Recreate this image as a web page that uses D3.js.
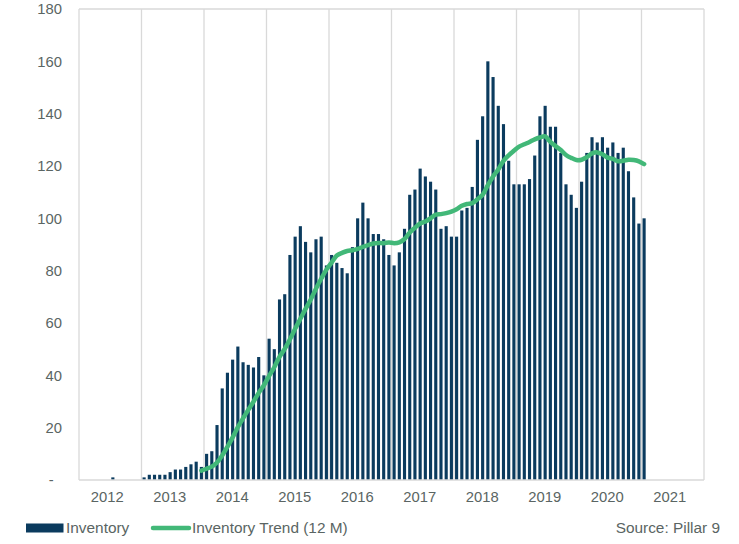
<!DOCTYPE html>
<html>
<head>
<meta charset="utf-8">
<script src="https://cdn.jsdelivr.net/npm/d3@7"></script>
<style>
  html, body { margin: 0; padding: 0; background: #ffffff; }
  svg { display: block; font-family: "Liberation Sans", Arial, sans-serif; }
</style>
</head>
<body>
<svg id="chart" width="739" height="544"></svg>
<script>
// ---------- DATA ----------
const years = [2012, 2013, 2014, 2015, 2016, 2017, 2018, 2019, 2020, 2021];
const yTicks = [0, 20, 40, 60, 80, 100, 120, 140, 160, 180];

// Monthly inventory, starting Jan of the first year span (null = no bar)
const inventory = [
  null, null, null, null, null, null, 1, null, null, null, null, null,
  1, 2, 2, 2, 2, 3, 4, 4, 5, 6, 7, 5,
  10, 11, 21, 35, 41, 46, 51, 45, 44, 43, 47, 40,
  54, 50, 69, 71, 86, 93, 97, 91, 87, 92, 93, 82,
  86, 83, 81, 79, 89, 100, 106, 100, 94, 94, 92, 86,
  82, 87, 96, 109, 111, 119, 116, 114, 111, 96, 97, 93,
  93, 103, 104, 112, 130, 139, 160, 154, 143, 136, 122, 113,
  113, 113, 115, 124, 139, 143, 135, 135, 125, 113, 109, 104,
  114, 125, 131, 129, 131, 127, 129, 125, 127, 118, 108, 98, 100
];

// 12-month trend, same month alignment (null = not drawn)
const trend = [
  null, null, null, null, null, null, null, null, null, null, null, null,
  null, null, null, null, null, null, null, null, null, null, null, 3.6,
  4.3, 5.1, 6.7, 9.4, 12.7, 16.3, 20.2, 23.6, 26.8, 29.9, 33.3, 36.2,
  39.8, 43.1, 47.1, 50.1, 53.8, 57.8, 61.6, 65.4, 69.0, 73.1, 76.9, 80.4,
  83.1, 85.8, 86.8, 87.5, 87.8, 88.3, 89.1, 89.8, 90.4, 90.6, 90.5, 90.8,
  90.5, 90.8, 92.1, 94.6, 96.4, 98.0, 98.8, 100.0, 101.4, 101.6, 102.0, 102.6,
  103.5, 104.8, 105.5, 105.8, 107.3, 109.0, 112.7, 116.0, 118.7, 122.0, 124.1, 125.8,
  127.4, 128.3, 129.2, 130.2, 130.9, 131.3, 129.2, 127.6, 126.1, 124.2, 123.1, 122.3,
  122.4, 123.4, 124.8, 125.2, 124.5, 123.2, 122.7, 121.8, 122.0, 122.4, 122.3, 121.8, 120.7
];

const legendLabels = ["Inventory", "Inventory Trend (12 M)"];
const sourceText = "Source: Pillar 9";

// ---------- LAYOUT ----------
const W = 739, H = 544;
const plot = { left: 79, right: 704, top: 9, bottom: 480 };
const barColor = "#0b3b5e";
const lineColor = "#42b878";
const gridColor = "#d9d9d9";
const textColor = "#5a6563";
const fontSize = 14.8;
const legendFontSize = 15.4;

const svg = d3.select("#chart");

// month categories derived from the year list
const months = [];
years.forEach(y => { for (let m = 1; m <= 12; m++) months.push(y + "-" + String(m).padStart(2, "0")); });

const x = d3.scaleBand().domain(months).range([plot.left, plot.right]).paddingInner(0.4).paddingOuter(0.2);
const xYear = d3.scaleBand().domain(years).range([plot.left, plot.right]).padding(0);
const y = d3.scaleLinear().domain([0, 180]).range([plot.bottom, plot.top]);

// vertical gridlines (year boundaries) + box
const gridXs = years.map(yr => xYear(yr)).concat([plot.right]);
svg.append("g").selectAll("line").data(gridXs).join("line")
  .attr("x1", d => d).attr("x2", d => d)
  .attr("y1", plot.top).attr("y2", plot.bottom)
  .attr("stroke", gridColor).attr("stroke-width", 1.3);
svg.append("line")
  .attr("x1", plot.left).attr("x2", plot.right)
  .attr("y1", plot.top).attr("y2", plot.top)
  .attr("stroke", gridColor).attr("stroke-width", 1.3);

// bars
const barData = inventory.map((v, i) => ({ m: months[i], v })).filter(d => d.v != null);
svg.append("g").selectAll("rect").data(barData).join("rect")
  .attr("x", d => x(d.m))
  .attr("width", x.bandwidth())
  .attr("y", d => y(d.v))
  .attr("height", d => y(0) - y(d.v))
  .attr("fill", barColor);

// bottom axis line
svg.append("line")
  .attr("x1", plot.left).attr("x2", plot.right)
  .attr("y1", plot.bottom).attr("y2", plot.bottom)
  .attr("stroke", gridColor).attr("stroke-width", 1.5);

// trend line
const trendData = trend.map((v, i) => ({ m: months[i], v })).filter(d => d.v != null);
const line = d3.line()
  .x(d => x(d.m) + x.bandwidth() / 2)
  .y(d => y(d.v))
  .curve(d3.curveCatmullRom.alpha(0.5));
svg.append("path").datum(trendData)
  .attr("d", line)
  .attr("fill", "none")
  .attr("stroke", lineColor)
  .attr("stroke-width", 4.5)
  .attr("stroke-linejoin", "round")
  .attr("stroke-linecap", "round");

// y axis labels
const yAxis = d3.axisLeft(y).tickValues(yTicks).tickSize(0).tickPadding(0)
  .tickFormat(d => d === 0 ? "-\u00a0\u00a0" : d3.format("d")(d));
const gy = svg.append("g").attr("transform", `translate(${plot.left - 17},0)`).call(yAxis);
gy.select(".domain").remove();
gy.selectAll("text").attr("fill", textColor).style("font-size", fontSize + "px")
  .style("font-family", '"Liberation Sans", Arial, sans-serif');

// x axis labels
const xAxis = d3.axisBottom(xYear).tickSize(0).tickPadding(0);
const gx = svg.append("g").attr("transform", `translate(-3,${plot.bottom + 11})`).call(xAxis);
gx.select(".domain").remove();
gx.selectAll("text").attr("fill", textColor).style("font-size", fontSize + "px")
  .style("font-family", '"Liberation Sans", Arial, sans-serif');

// legend
const lg = svg.append("g").style("font-size", legendFontSize + "px").attr("fill", textColor);
lg.append("rect").attr("x", 26).attr("y", 523.5).attr("width", 37.5).attr("height", 9).attr("fill", barColor);
lg.append("text").attr("x", 66).attr("y", 528).attr("dy", "0.35em").text(legendLabels[0]);
lg.append("line").attr("x1", 153).attr("x2", 189).attr("y1", 528).attr("y2", 528)
  .attr("stroke", lineColor).attr("stroke-width", 4.5).attr("stroke-linecap", "round");
lg.append("text").attr("x", 192).attr("y", 528).attr("dy", "0.35em").text(legendLabels[1]);
lg.append("text").attr("x", 720).attr("y", 528).attr("dy", "0.35em").attr("text-anchor", "end").text(sourceText);
</script>
</body>
</html>
